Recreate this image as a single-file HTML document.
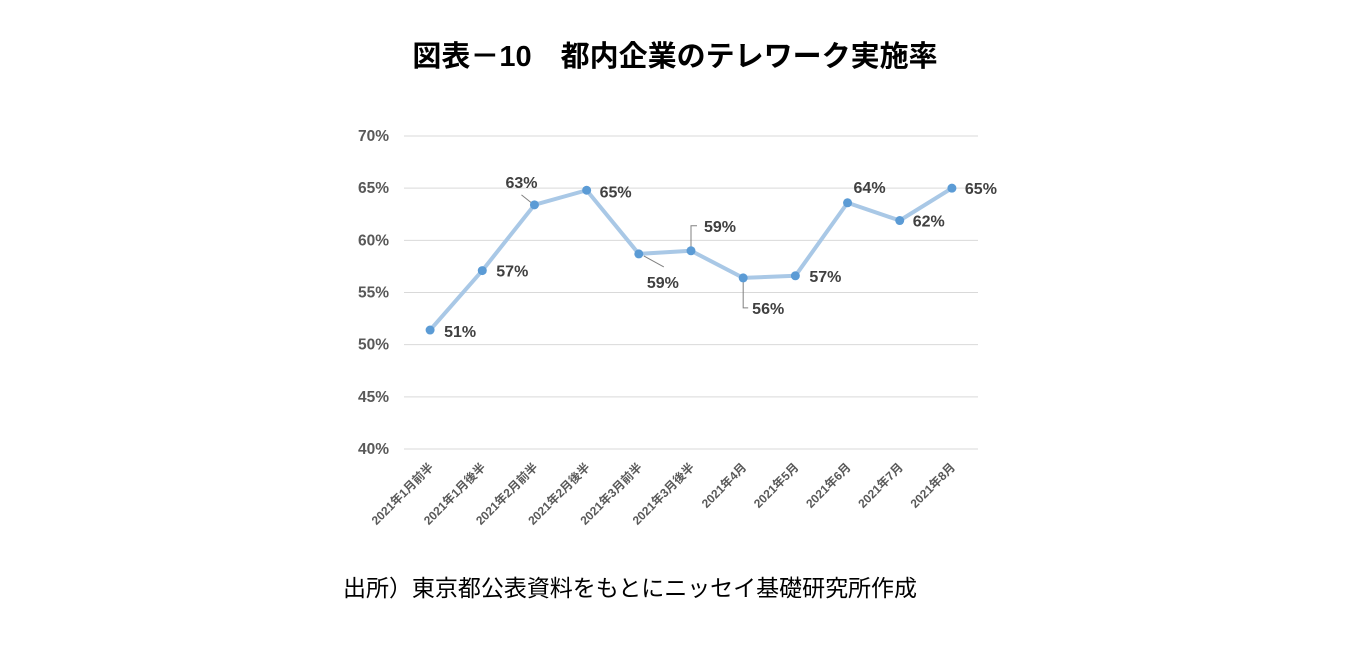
<!DOCTYPE html>
<html><head><meta charset="utf-8">
<style>
html,body{margin:0;padding:0;background:#fff;}
body{width:1349px;height:651px;overflow:hidden;}
text{font-family:"Liberation Sans","Noto Sans CJK JP",sans-serif;}
</style></head>
<body>
<svg id="chart" width="1349" height="651" viewBox="0 0 1349 651" xmlns="http://www.w3.org/2000/svg">
<text x="675" y="66" text-anchor="middle" font-size="29" font-weight="bold" fill="#000" style='font-family:"Liberation Sans","Noto Sans CJK JP",sans-serif'>図表－10　都内企業のテレワーク実施率</text>
<g id="grid"></g>
<g id="yaxis"></g>
<g id="xaxis"></g>
<g id="series"></g>
<text x="343" y="596" font-size="23" fill="#000" textLength="574" style='font-family:"Noto Sans CJK JP",sans-serif'>出所）東京都公表資料をもとにニッセイ基礎研究所作成</text>
</svg>
<script>
const categories=["2021年1月前半","2021年1月後半","2021年2月前半","2021年2月後半","2021年3月前半","2021年3月後半","2021年4月","2021年5月","2021年6月","2021年7月","2021年8月"];
const values=[51.4,57.1,63.4,64.8,58.7,59.0,56.4,56.6,63.6,61.9,65.0];
const valueLabels=["51%","57%","63%","65%","59%","59%","56%","57%","64%","62%","65%"];
const yTicks=[40,45,50,55,60,65,70];
const yTickLabels=["40%","45%","50%","55%","60%","65%","70%"];
// label offsets (layout only)
const labOff=[[14,7],[14,6],[-29,-17],[13,7],[8,34],[13,-19],[9,36],[14,6],[6,-10],[13,6],[13,6]];
const leaders={2:[[-13,-10],[-3,-2]],4:[[5,2],[25,13]],5:[[0,-4],[0,-25],[6,-25]],6:[[0,4],[0,30],[5,30]]};

const NS="http://www.w3.org/2000/svg";
const x0=404,x1=978,yTop=136,yBot=449,vMin=40,vMax=70;
const bw=(x1-x0)/categories.length;
const xs=i=>x0+bw*(i+0.5);
const ys=v=>yBot-(v-vMin)/(vMax-vMin)*(yBot-yTop);
function mk(tag,attrs,parent){const e=document.createElementNS(NS,tag);for(const k in attrs)e.setAttribute(k,attrs[k]);parent.appendChild(e);return e;}
const grid=document.getElementById('grid'),ya=document.getElementById('yaxis'),xa=document.getElementById('xaxis'),ser=document.getElementById('series');
yTicks.forEach((t,i)=>{
  const l=mk('line',{x1:x0,x2:x1,y1:ys(t),y2:ys(t),stroke:'#d9d9d9','stroke-width':1},grid);
  
  
  const tx=mk('text',{x:389,y:ys(t)+5,'text-anchor':'end','font-size':15.5,'font-weight':'bold',fill:'#595959'},ya);
  tx.textContent=yTickLabels[i];
  
  
});
categories.forEach((c,i)=>{
  const cx=xs(i)+4,cy=468;
  const tx=mk('text',{x:cx,y:cy,'text-anchor':'end','font-size':12,'font-weight':'bold',fill:'#595959',transform:`rotate(-45 ${cx} ${cy})`},xa);
  tx.textContent=c;
  
  
});
const pts=values.map((v,i)=>xs(i)+','+ys(v)).join(' ');
const pl=mk('polyline',{points:pts,fill:'none',stroke:'#a9c8e6','stroke-width':4,'stroke-linejoin':'round'},ser);


values.forEach((v,i)=>{
  const px=xs(i),py=ys(v);
  if(leaders[i]){
    const p=leaders[i].map(d=>(px+d[0])+','+(py+d[1])).join(' ');
    const ld=mk('polyline',{points:p,fill:'none',stroke:'#808080','stroke-width':1},ser);
    
    
  }
  const c=mk('circle',{cx:px,cy:py,r:4.5,fill:'#5b9bd5'},ser);
  
  
  const t=mk('text',{x:px+labOff[i][0],y:py+labOff[i][1],'font-size':16,'font-weight':'bold',fill:'#404040'},ser);
  t.textContent=valueLabels[i];
  
  
});
</script>
</body></html>
